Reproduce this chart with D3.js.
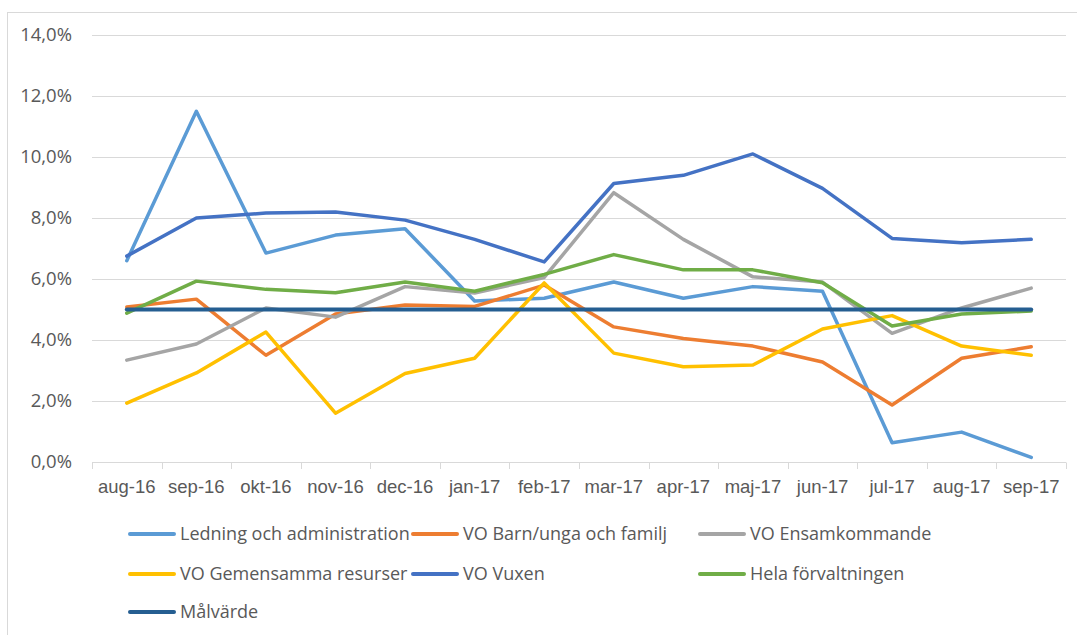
<!DOCTYPE html>
<html>
<head>
<meta charset="utf-8">
<script src="https://cdn.jsdelivr.net/npm/d3@7"></script>
<style>
  body { margin: 0; background: #fff; }
  svg { display: block; font-family: "Open Sans", sans-serif; }
  .tickLabel { fill: #595959; font-size: 18.5px; }
  .legendText { fill: #595959; font-size: 18px; }
</style>
</head>
<body>
<svg id="chart" width="1077" height="635"></svg>
<script>

var months = ["aug-16","sep-16","okt-16","nov-16","dec-16","jan-17","feb-17",
  "mar-17","apr-17","maj-17","jun-17","jul-17","aug-17","sep-17"];

var yTicks = [0, 2, 4, 6, 8, 10, 12, 14];

var ledning    = [6.6, 11.5, 6.85, 7.44, 7.65, 5.28, 5.37, 5.9, 5.37, 5.75, 5.6, 0.63, 0.98, 0.15];
var barnUnga   = [5.08, 5.34, 3.5, 4.85, 5.15, 5.1, 5.8, 4.43, 4.05, 3.8, 3.28, 1.87, 3.4, 3.78];
var ensam      = [3.34, 3.87, 5.05, 4.75, 5.75, 5.54, 6.05, 8.83, 7.3, 6.07, 5.9, 4.22, 5.05, 5.7];
var gemensamma = [1.93, 2.92, 4.26, 1.6, 2.9, 3.4, 5.87, 3.57, 3.12, 3.18, 4.36, 4.8, 3.8, 3.5];
var vuxen      = [6.75, 8.0, 8.16, 8.2, 7.93, 7.3, 6.56, 9.13, 9.4, 10.1, 8.97, 7.33, 7.19, 7.3];
var hela       = [4.88, 5.93, 5.66, 5.55, 5.9, 5.6, 6.15, 6.8, 6.3, 6.3, 5.88, 4.46, 4.85, 4.95];
var malvarde   = [5, 5, 5, 5, 5, 5, 5, 5, 5, 5, 5, 5, 5, 5];

var seriesNames = ["Ledning och administration", "VO Barn/unga och familj", "VO Ensamkommande",
  "VO Gemensamma resurser", "VO Vuxen", "Hela förvaltningen", "Målvärde"];
var seriesColors = ["#5B9BD5", "#ED7D31", "#A5A5A5", "#FFC000", "#4472C4", "#70AD47", "#255E91"];
var seriesValues = [ledning, barnUnga, ensam, gemensamma, vuxen, hela, malvarde];

/************************************************************************************************************/

var svg = d3.select("#chart");
svg.margin = {left: 92, top: 35, right: 11};
svg.width = 1066 - svg.margin.left;
svg.height = 462 - svg.margin.top;

// chart area border (right/bottom edges fall outside the picture)
svg.append("rect")
  .attr("x", 7.5).attr("y", 12.5)
  .attr("width", 1100).attr("height", 640)
  .attr("fill", "none").attr("stroke", "#D9D9D9");

svg.x = d3.scaleBand().domain(months).range([0, svg.width]);
svg.y = d3.scaleLinear().domain([0, 14]).range([svg.height, 0]);

var g = svg.append("g").attr("transform", "translate(" + [svg.margin.left, svg.margin.top] + ")");

// grid
g.append("g").selectAll("line").data(yTicks.filter(function(d){ return d > 0; })).enter().append("line")
  .attr("x1", 0).attr("x2", svg.width)
  .attr("y1", function(d){ return Math.round(svg.y(d)) + 0.5; })
  .attr("y2", function(d){ return Math.round(svg.y(d)) + 0.5; })
  .attr("stroke", "#D9D9D9");

// y labels
g.append("g").selectAll("text").data(yTicks).enter().append("text")
  .attr("class", "tickLabel")
  .attr("x", -20)
  .attr("y", function(d){ return svg.y(d); })
  .attr("dy", "0.35em")
  .attr("text-anchor", "end")
  .text(function(d){ return d3.format(".1f")(d).replace(".", ",") + "%"; });

// x axis
var axisx = g.append("g").attr("transform", "translate(0," + svg.height + ")");
axisx.call(d3.axisBottom(svg.x).tickSize(0).tickPadding(18));
axisx.select(".domain").remove();
axisx.selectAll("text").attr("class", "tickLabel").attr("font-family", null).attr("font-size", null).attr("fill", null);

var bounds = months.map(function(m){ return svg.x(m); }).concat([svg.width]);
axisx.selectAll("line.sep").data(bounds).enter().append("line")
  .attr("class", "sep")
  .attr("x1", function(d){ return Math.round(d) + 0.5; })
  .attr("x2", function(d){ return Math.round(d) + 0.5; })
  .attr("y1", 0.5).attr("y2", 7)
  .attr("stroke", "#D9D9D9");
axisx.append("line")
  .attr("x1", 0).attr("x2", svg.width)
  .attr("y1", 0.5).attr("y2", 0.5)
  .attr("stroke", "#D9D9D9");

// lines
var line = d3.line()
  .x(function(d, i){ return svg.x(months[i]) + svg.x.bandwidth() / 2; })
  .y(function(d){ return svg.y(d); });

seriesValues.forEach(function(vals, i){
  g.append("path")
    .datum(vals)
    .attr("d", line)
    .attr("fill", "none")
    .attr("stroke", seriesColors[i])
    .attr("stroke-width", i === 6 ? 4 : 3.5)
    .attr("stroke-linejoin", "round")
    .attr("stroke-linecap", "round");
});

// legend
var legendCols = [128, 411, 698];
var legendRows = [534, 574, 612];

var legend = svg.append("g");
seriesNames.forEach(function(name, i){
  var lx = legendCols[i % 3], ly = legendRows[Math.floor(i / 3)];
  var item = legend.append("g").attr("transform", "translate(" + [lx, ly] + ")");
  item.append("line")
    .attr("x1", 2).attr("x2", 46)
    .attr("y1", 0).attr("y2", 0)
    .attr("stroke", seriesColors[i])
    .attr("stroke-width", 4)
    .attr("stroke-linecap", "round");
  item.append("text")
    .attr("class", "legendText")
    .attr("x", 52)
    .attr("dy", "0.35em")
    .text(name);
});

</script>
</body>
</html>
